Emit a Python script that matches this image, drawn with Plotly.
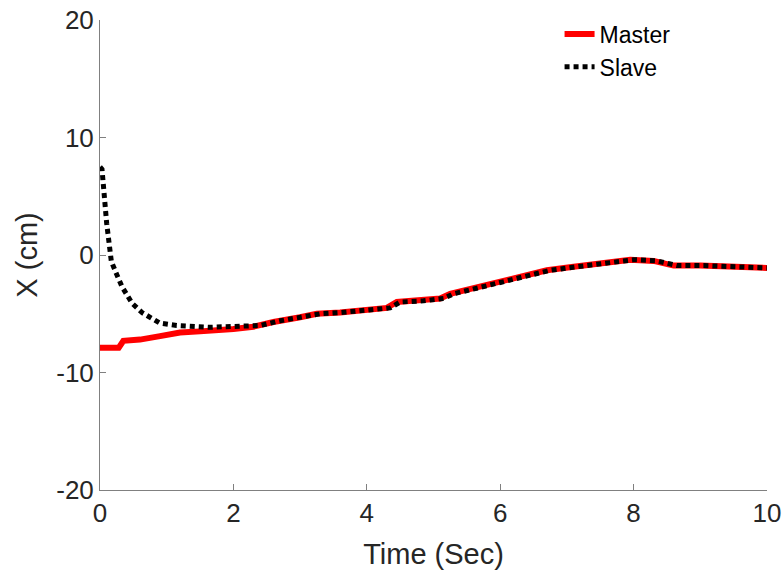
import plotly.graph_objects as go

# Master trajectory
master_t = [0, 0.28, 0.35, 0.6, 0.9, 1.2, 1.5, 1.9, 2.0, 2.3, 2.6, 3.0, 3.25, 3.6, 4.0,
            4.3, 4.45, 4.8, 5.1, 5.25, 5.4, 5.7, 6.0, 6.3, 6.7, 7.1, 7.5, 7.95, 8.3, 8.5,
            8.6, 9.0, 9.5, 10.0]
master_x = [-7.9, -7.9, -7.3, -7.2, -6.9, -6.6, -6.5, -6.4, -6.3, -6.1, -5.7, -5.3, -5.0,
            -4.9, -4.7, -4.5, -4.0, -3.9, -3.7, -3.3, -3.1, -2.7, -2.3, -1.8, -1.3, -1.0,
            -0.7, -0.4, -0.5, -0.7, -0.9, -0.9, -1.0, -1.1]

# Slave trajectory
slave_t = [0, 0.03, 0.1, 0.14, 0.17, 0.25, 0.33, 0.48, 0.63, 0.9, 1.15, 1.65, 1.9, 2.1,
           2.4, 2.7, 3.0, 3.3, 3.6, 4.0, 4.35, 4.5, 4.85, 5.15, 5.3, 5.45, 5.75, 6.05,
           6.35, 6.75, 7.15, 7.55, 8.0, 8.35, 8.55, 8.65, 9.05, 9.55, 10.0]
slave_x = [7.5, 7.3, 2.7, 1.0, -0.55, -1.65, -2.7, -4.1, -4.9, -5.8, -6.0, -6.15, -6.1,
           -6.1, -6.0, -5.6, -5.3, -5.0, -4.9, -4.7, -4.5, -4.0, -3.9, -3.7, -3.3, -3.1,
           -2.7, -2.3, -1.8, -1.3, -1.0, -0.7, -0.4, -0.5, -0.7, -0.9, -0.9, -1.0, -1.1]

x_ticks = [0, 2, 4, 6, 8, 10]
x_labels = ["0", "2", "4", "6", "8", "10"]
y_ticks = [-20, -10, 0, 10, 20]
y_labels = ["-20", "-10", "0", "10", "20"]

FONT = "Liberation Sans, Arial"

fig = go.Figure()
fig.add_trace(go.Scatter(x=master_t, y=master_x, mode="lines", name="Master",
                         line=dict(color="#ff0000", width=6)))
fig.add_trace(go.Scatter(x=slave_t, y=slave_x, mode="lines", name="Slave",
                         line=dict(color="#000000", width=5, dash="5px,4px")))

axis_common = dict(showgrid=False, zeroline=False, showline=True, linecolor="#808080",
                   linewidth=1, ticks="inside", ticklen=6, tickcolor="#808080",
                   tickfont=dict(family=FONT, size=26, color="#262626"),
                   mirror=False, automargin=False)

fig.update_layout(
    width=784, height=583,
    margin=dict(l=100, r=17, t=17, b=93),
    paper_bgcolor="white", plot_bgcolor="white",
    showlegend=True,
    legend=dict(x=0.689, y=1.016, xanchor="left", yanchor="top",
                bgcolor="rgba(0,0,0,0)", borderwidth=0,
                font=dict(family=FONT, size=23, color="#000000"),
                tracegroupgap=0, itemwidth=30),
    xaxis=dict(range=[0, 10], tickvals=x_ticks, ticktext=x_labels,
               title=dict(text="Time (Sec)", standoff=16,
                          font=dict(family=FONT, size=29, color="#262626")),
               **axis_common),
    yaxis=dict(range=[-20, 20], tickvals=y_ticks, ticktext=y_labels,
               title=dict(text="X (cm)", standoff=10,
                          font=dict(family=FONT, size=29, color="#262626")),
               **axis_common),
)

fig.write_html("out.html")
